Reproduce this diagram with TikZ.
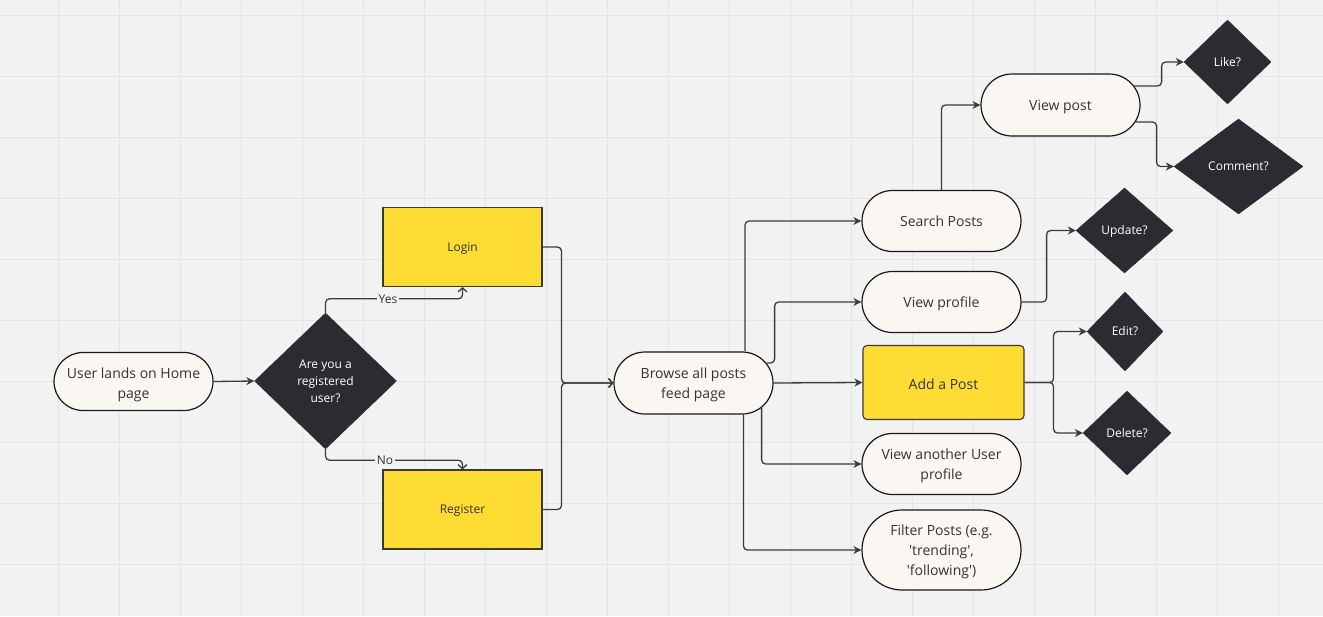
\documentclass[tikz,border=0pt]{standalone}
\usepackage{fontspec}
\setmainfont{Open Sans}
\usetikzlibrary{shapes.geometric,shapes.misc,arrows.meta,calc}
\definecolor{bg}{HTML}{F2F2F2}
\definecolor{gridc}{HTML}{E4E4E4}
\definecolor{cream}{HTML}{FAF7F2}
\definecolor{yel}{HTML}{FFDC33}
\definecolor{ybord}{HTML}{3A3A2E}
\definecolor{dark}{HTML}{2B2C31}
\definecolor{edge}{HTML}{3C3C3C}
\definecolor{txt}{HTML}{333333}
\begin{document}
\begin{tikzpicture}[x=1pt,y=-1pt,
  term/.style={rounded rectangle, draw=black!90, fill=cream, line width=1.2pt,
    minimum width=163pt, minimum height=61pt, inner sep=2pt, align=center,
    text=txt, font=\fontsize{14}{20}\selectfont,
    text height=10pt, text depth=0pt},
  two/.style={text height=30pt},
  three/.style={text height=50pt},
  decision/.style={diamond, draw=dark, fill=dark, text=white, inner sep=0pt,
    align=center, font=\fontsize{12}{17}\selectfont,
    text height=8.6pt, text depth=0pt},
  ybox/.style={rectangle, draw=ybord, fill=yel, line width=1.1pt,
    minimum width=159pt, minimum height=79pt, text=txt,
    font=\fontsize{12}{15}\selectfont, text height=8.6pt, text depth=0pt},
  conn/.style={draw=edge, line width=1.3pt, rounded corners=4pt,
    -{Stealth[length=8pt,width=8pt,inset=2.5pt]}},
  barb/.style={draw=edge, line width=1.3pt, rounded corners=4pt,
    -{Straight Barb[length=4pt,width=9pt,line width=1.3pt]}},
  lbl/.style={fill=bg, inner sep=2pt, text=txt, font=\fontsize{12}{14}\selectfont}
]
\fill[bg] (0,0) rectangle (1323,616);
\useasboundingbox (0,0) rectangle (1323,616);
\foreach \k in {0,...,20} {
  \draw[gridc, line width=1pt] ({58.3+61*\k},0) -- ({58.3+61*\k},616);
}
\foreach \k in {0,...,9} {
  \draw[gridc, line width=1pt] (0,{15.3+61*\k}) -- (1323,{15.3+61*\k});
}

% nodes
\node[term, two, text height=33pt, minimum height=58pt] (start) at (133.5,381.5) {User lands on Home\\page};
\node[decision, text height=42.6pt, minimum width=142pt, minimum height=136pt] (q) at (325.5,381) {Are you a\\registered\\user?};
\node[ybox] (login) at (462.5,247) {Login};
\node[ybox] (reg) at (462.5,509.5) {Register};
\node[term, two, minimum height=62pt] (browse) at (693.5,383) {Browse all posts\\feed page};
\node[term] (search) at (941.5,221) {Search Posts};
\node[term] (vprof) at (941.5,302) {View profile};
\node[ybox, rounded corners=4pt, minimum width=161pt, minimum height=74pt,
  font=\fontsize{14}{20}\selectfont, text height=13pt] (add) at (943.5,382.5) {Add a Post};
\node[term, two] (vother) at (941.5,464) {View another User\\profile};
\node[term, three, minimum height=80pt] (filter) at (941.5,550) {Filter Posts (e.g.\\\textquotesingle trending\textquotesingle,\\\textquotesingle following\textquotesingle)};
\node[term, minimum height=62pt] (vpost) at (1060.5,105) {View post};
\node[decision, minimum width=87pt, minimum height=84pt] (like) at (1227.5,62) {Like?};
\node[decision, minimum width=129pt, minimum height=95pt] (comment) at (1238.5,166.5) {Comment?};
\node[decision, minimum width=97pt, minimum height=85pt] (update) at (1124.5,230.5) {Update?};
\node[decision, minimum width=76pt, minimum height=79pt] (edit) at (1125,331.5) {Edit?};
\node[decision, minimum width=88pt, minimum height=84pt] (delete) at (1127,433) {Delete?};

% connectors
\draw[conn] (start.east) -- (q.west);
\draw[barb] (q.north) -- ++(0,-14) -| (login.south);
\node[lbl] (yes) at (388,299) {Yes};
\draw[barb] (q.south) -- ++(0,11) -| (reg.north);
\node[lbl] (no) at (385,460) {No};
\draw[barb] (login.east) -- ++(19,0) |- (browse.west);
\draw[barb] (reg.east) -- ++(19,0) |- (browse.west);

\draw[conn] ($(browse.north)+(51.5,0)$) |- (search.west);
\draw[conn] ($(browse.east)+(-7,-20)$) -- ++(8,0) |- (vprof.west);
\draw[conn] (browse.east) -- (add.west);
\draw[conn] ($(browse.east)+(-12,24.5)$) |- (vother.west);
\draw[conn] ($(browse.south)+(50,0)$) |- (filter.west);

\draw[conn] (search.north) |- (vpost.west);
\draw[conn] ($(vpost.east)+(-6.5,-19)$) -- ++(27.5,0) |- (like.west);
\draw[conn] ($(vpost.east)+(-5,17)$) -- ++(21,0) |- (comment.west);
\draw[conn] (vprof.east) -- ++(25,0) |- (update.west);
\draw[conn] (add.east) -- ++(29,0) |- (edit.west);
\draw[conn] (add.east) -- ++(29,0) |- (delete.west);
\end{tikzpicture}
\end{document}
